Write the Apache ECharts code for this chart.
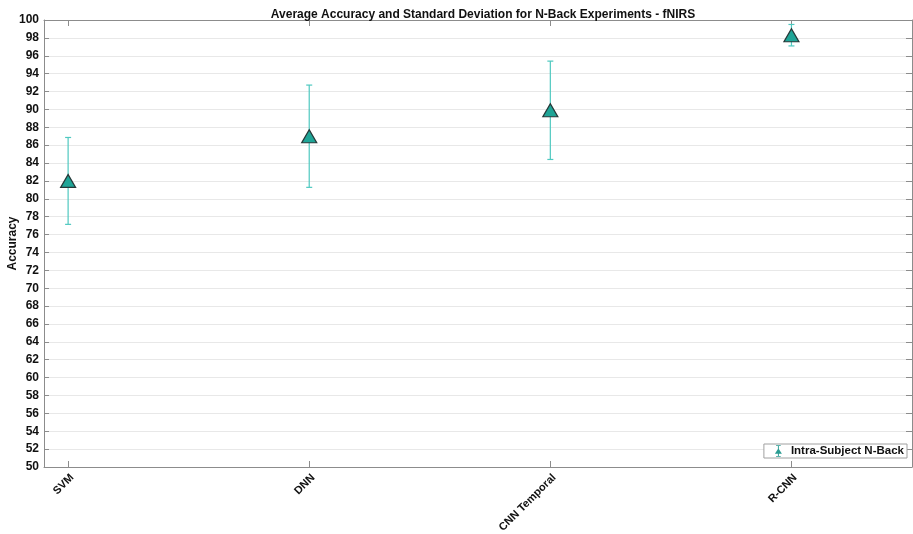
<!DOCTYPE html>
<html>
<head>
<meta charset="utf-8">
<script src="https://cdn.jsdelivr.net/npm/echarts@6/dist/echarts.min.js"></script>
<style>html,body{margin:0;padding:0;background:#fff;}#c{width:913px;height:534px;}</style>
</head>
<body>
<div id="c"></div>
<script>
const categories = ['SVM', 'DNN', 'CNN Temporal', 'R-CNN'];
const meanAccuracy = [82.0, 87.0, 89.9, 98.3];
const stdDev = [4.86, 5.72, 5.5, 1.2];
const yTicks = [50,52,54,56,58,60,62,64,66,68,70,72,74,76,78,80,82,84,86,88,90,92,94,96,98,100];
const seriesName = 'Intra-Subject N-Back';

const positions = categories.map((c, i) => i + 1);
const pointData = meanAccuracy.map((v, i) => [positions[i], v]);
const errData = meanAccuracy.map((v, i) => [positions[i], v - stdDev[i], v + stdDev[i]]);

const FONT = 'Liberation Sans, Arial, sans-serif';
const axisGray = '#8c8c8c';
const markFill = '#1fa597';
const markEdge = '#263838';
const legendIcon = 'path://M2,0 L8,0 L8,1.2 L5.6,1.2 L5.6,5 L9.5,11 L5.6,11 L5.6,13.8 L8,13.8 L8,15 L2,15 L2,13.8 L4.4,13.8 L4.4,11 L0.5,11 L4.4,5 L4.4,1.2 L2,1.2 Z';

const chart = echarts.init(document.getElementById('c'), null, {renderer: 'canvas'});
chart.setOption({
  animation: false,
  backgroundColor: '#fff',
  title: {
    text: 'Average Accuracy and Standard Deviation for N-Back Experiments - fNIRS',
    left: 478, top: 4, textAlign: 'center',
    textStyle: {fontFamily: FONT, fontWeight: 'bold', fontSize: 12, color: '#111'}
  },
  grid: {left: 44, right: 1, top: 20, bottom: 67, containLabel: false, outerBoundsMode: 'none'},
  legend: {
    data: [{name: seriesName, icon: legendIcon, itemStyle: {color: '#2a9c92', borderWidth: 0}}],
    right: 6, top: 444,
    itemWidth: 7, itemHeight: 12,
    padding: [1, 3, 1, 11],
    itemGap: 5,
    backgroundColor: '#fff',
    borderColor: '#a0a0a0', borderWidth: 1, borderRadius: 0,
    textStyle: {fontFamily: FONT, fontWeight: 'bold', fontSize: 11.5, color: '#111', padding: [0, 0, 0, 4]}
  },
  xAxis: [{
    type: 'value', min: 0.9, max: 4.5, position: 'bottom',
    axisLine: {show: true, onZero: false, lineStyle: {color: axisGray, width: 1}},
    axisTick: {show: true, inside: true, length: 6, customValues: positions, lineStyle: {color: axisGray}},
    axisLabel: {
      customValues: positions, rotate: 45, margin: 5, verticalAlign: 'top',
      formatter: v => categories[Math.round(v) - 1] || '',
      fontFamily: FONT, fontWeight: 'bold', fontSize: 11, color: '#111'
    },
    splitLine: {show: false}
  }, {
    type: 'value', min: 0.9, max: 4.5, position: 'top',
    axisLine: {show: true, onZero: false, lineStyle: {color: axisGray, width: 1}},
    axisTick: {show: true, inside: true, length: 6, customValues: positions, lineStyle: {color: axisGray}},
    axisLabel: {show: false},
    splitLine: {show: false}
  }],
  yAxis: [{
    type: 'value', min: 50, max: 100, interval: 2, position: 'left',
    name: 'Accuracy', nameLocation: 'middle', nameGap: 25, nameRotate: 90, nameMoveOverlap: false,
    nameTextStyle: {fontFamily: FONT, fontWeight: 'bold', fontSize: 12, color: '#111'},
    axisLine: {show: true, onZero: false, lineStyle: {color: axisGray, width: 1}},
    axisTick: {show: true, inside: true, length: 5, lineStyle: {color: axisGray}},
    axisLabel: {margin: 5, fontFamily: FONT, fontWeight: 'bold', fontSize: 12, color: '#111',
      formatter: v => yTicks.indexOf(v) >= 0 ? String(v) : ''},
    splitLine: {show: true, lineStyle: {color: '#e8e8e8', width: 1}}
  }, {
    type: 'value', min: 50, max: 100, interval: 2, position: 'right',
    axisLine: {show: true, onZero: false, lineStyle: {color: axisGray, width: 1}},
    axisTick: {show: true, inside: true, length: 6, lineStyle: {color: axisGray}},
    axisLabel: {show: false},
    splitLine: {show: false}
  }],
  series: [{
    type: 'custom',
    name: seriesName,
    xAxisIndex: 0, yAxisIndex: 0,
    data: errData,
    z: 2,
    itemStyle: {color: markFill},
    renderItem: function (params, api) {
      const x = api.value(0);
      const lo = api.coord([x, api.value(1)]);
      const hi = api.coord([x, api.value(2)]);
      const cap = 3;
      const style = {stroke: '#4fc9c0', lineWidth: 1.2, fill: null};
      return {
        type: 'group',
        children: [
          {type: 'line', shape: {x1: lo[0], y1: lo[1], x2: hi[0], y2: hi[1]}, style: style},
          {type: 'line', shape: {x1: lo[0] - cap, y1: lo[1], x2: lo[0] + cap, y2: lo[1]}, style: style},
          {type: 'line', shape: {x1: hi[0] - cap, y1: hi[1], x2: hi[0] + cap, y2: hi[1]}, style: style}
        ]
      };
    }
  }, {
    type: 'scatter',
    name: seriesName,
    xAxisIndex: 0, yAxisIndex: 0,
    data: pointData,
    symbol: 'triangle',
    symbolSize: [15, 13],
    z: 3,
    itemStyle: {color: markFill, borderColor: markEdge, borderWidth: 1.2, opacity: 1}
  }]
});
</script>
</body>
</html>
